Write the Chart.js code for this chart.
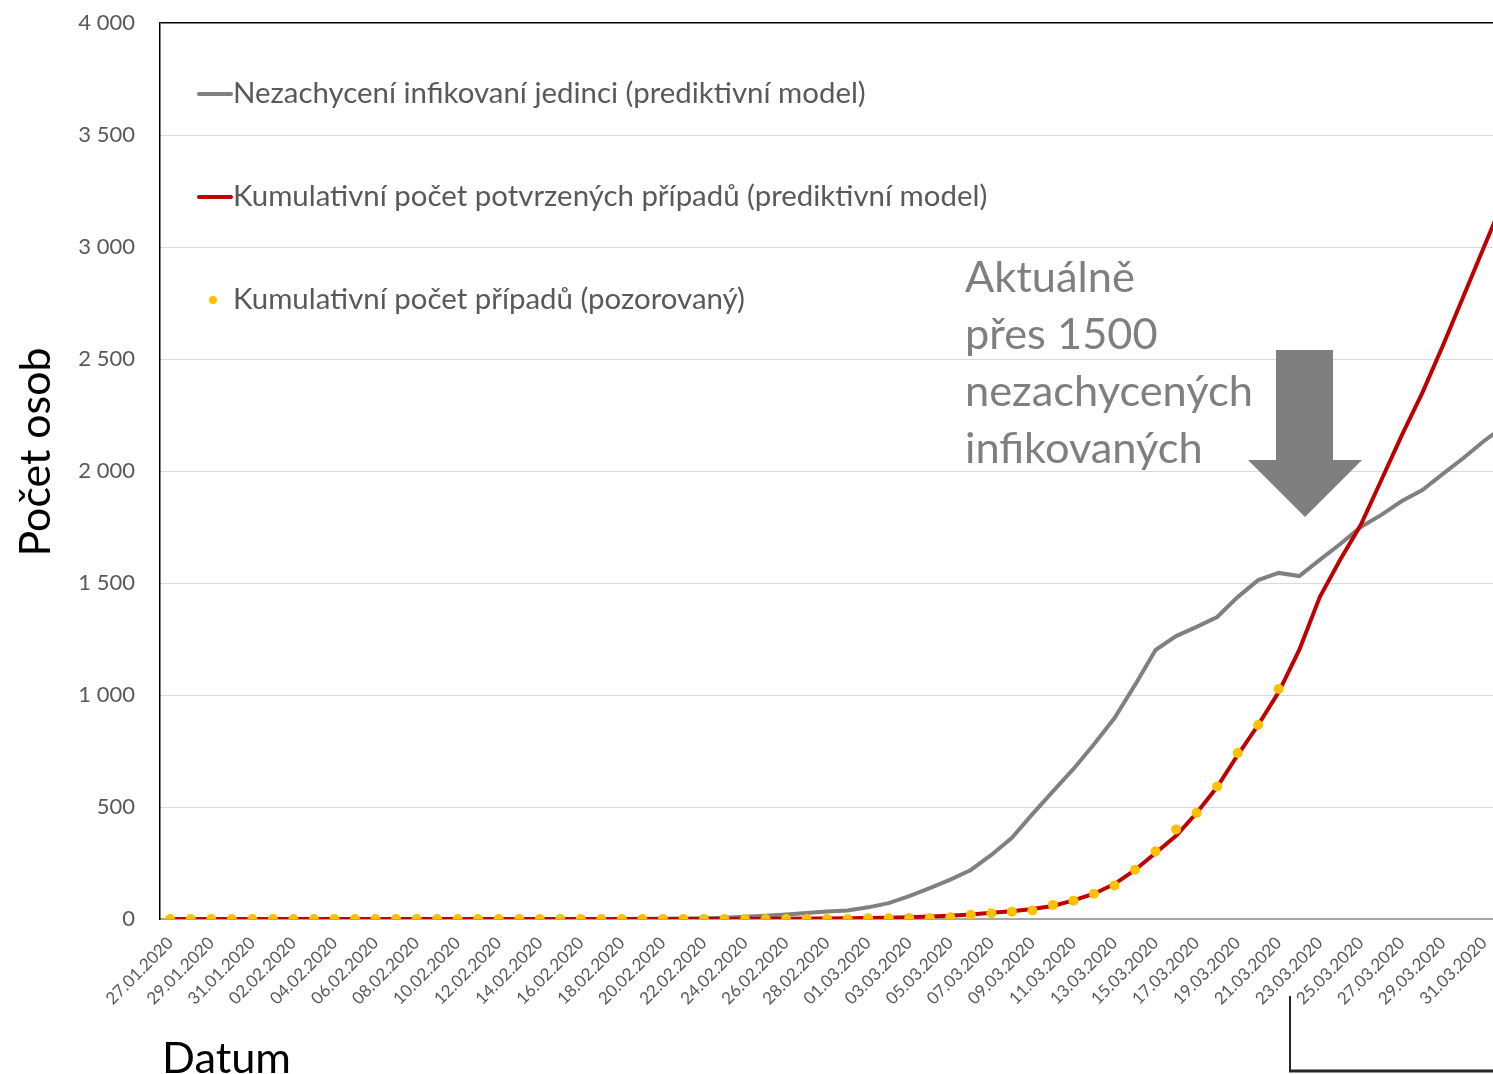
<!DOCTYPE html>
<html lang="cs">
<head>
<meta charset="utf-8">
<script src="https://cdn.jsdelivr.net/npm/chart.js@4"></script>
<style>
  html, body { margin: 0; padding: 0; background: #fff; overflow: hidden; }
  #wrap { width: 1493px; height: 1074px; overflow: hidden; position: relative; }
</style>
</head>
<body>
<div id="wrap"><canvas id="covidChart" width="1525" height="1074"></canvas></div>
<script>
// categories (one per day)
const dates = [
  '27.01.2020', '28.01.2020', '29.01.2020', '30.01.2020', '31.01.2020',
  '01.02.2020', '02.02.2020', '03.02.2020', '04.02.2020', '05.02.2020', '06.02.2020', '07.02.2020',
  '08.02.2020', '09.02.2020', '10.02.2020', '11.02.2020', '12.02.2020', '13.02.2020', '14.02.2020',
  '15.02.2020', '16.02.2020', '17.02.2020', '18.02.2020', '19.02.2020', '20.02.2020', '21.02.2020',
  '22.02.2020', '23.02.2020', '24.02.2020', '25.02.2020', '26.02.2020', '27.02.2020', '28.02.2020',
  '29.02.2020',
  '01.03.2020', '02.03.2020', '03.03.2020', '04.03.2020', '05.03.2020', '06.03.2020', '07.03.2020',
  '08.03.2020', '09.03.2020', '10.03.2020', '11.03.2020', '12.03.2020', '13.03.2020', '14.03.2020',
  '15.03.2020', '16.03.2020', '17.03.2020', '18.03.2020', '19.03.2020', '20.03.2020', '21.03.2020',
  '22.03.2020', '23.03.2020', '24.03.2020', '25.03.2020', '26.03.2020', '27.03.2020', '28.03.2020',
  '29.03.2020', '30.03.2020', '31.03.2020',
  '01.04.2020'
];

// Nezachycení infikovaní jedinci (prediktivní model)
const unreported = [
  0, 0, 0, 0, 0,
  0, 0, 0, 0, 0, 0, 0,
  0, 0, 0, 0, 0, 0, 0,
  0, 0, 0, 0, 1, 1, 2,
  3, 6, 10, 14, 20, 27, 33,
  38,
  52, 71, 102, 138, 176, 219, 286,
  362, 468, 570, 670, 780, 897, 1045,
  1201, 1263, 1304, 1348, 1437, 1513, 1545,
  1531, 1603, 1674, 1750, 1804, 1866, 1915,
  1987, 2058, 2134,
  2200
];

// Kumulativní počet potvrzených případů (prediktivní model)
const modelCases = [
  0, 0, 0, 0, 0,
  0, 0, 0, 0, 0, 0, 0,
  0, 0, 0, 0, 0, 0, 0,
  0, 0, 0, 0, 0, 0, 0,
  0, 0, 1, 1, 1, 2, 2,
  3,
  4, 6, 8, 11, 14, 20, 28,
  35, 45, 58, 83, 113, 156, 219,
  295, 371, 473, 589, 732, 866, 1013,
  1201, 1437, 1605, 1760, 1960, 2160, 2350,
  2560, 2780, 3000,
  3220
];

// Kumulativní počet případů (pozorovaný)
const observedCases = [
  0, 0, 0, 0, 0,
  0, 0, 0, 0, 0, 0, 0,
  0, 0, 0, 0, 0, 0, 0,
  0, 0, 0, 0, 0, 0, 0,
  0, 0, 0, 0, 0, 0, 0,
  0,
  3, 3, 5, 5, 8, 19, 26,
  32, 38, 63, 82, 113, 150, 220,
  302, 400, 473, 592, 741, 866, 1027,
  null, null, null, null, null, null, null,
  null, null, null,
  null
];

const seriesNames = [
  'Nezachycení infikovaní jedinci (prediktivní model)',
  'Kumulativní počet potvrzených případů (prediktivní model)',
  'Kumulativní počet případů (pozorovaný)'
];

const noteLines = ['Aktuálně', 'přes 1500', 'nezachycených', 'infikovaných'];

const FONT = 'Lato';

function fitSize(c, text, width) {
  c.font = '100px ' + FONT;
  return 100 * width / c.measureText(text).width;
}

function thousands(v) {
  return String(v).replace(/\B(?=(\d{3})+(?!\d))/g, ' ');
}

// legend, note, arrow, axis titles, bracket
const decorations = {
  id: 'decorations',
  afterDraw(chart) {
    const c = chart.ctx;
    c.save();

    // legend inside the plot
    const legY = [94, 197, 300];
    const legSize = fitSize(c, seriesNames[0], 633);
    chart.data.datasets.forEach((ds, k) => {
      const y = legY[k];
      if (ds.showLine === false) {
        c.fillStyle = ds.pointBackgroundColor;
        c.beginPath();
        c.arc(213, y, 4, 0, Math.PI * 2);
        c.fill();
      } else {
        c.strokeStyle = ds.borderColor;
        c.lineWidth = 4;
        c.lineCap = 'round';
        c.beginPath();
        c.moveTo(199, y);
        c.lineTo(231, y);
        c.stroke();
      }
      c.font = legSize + 'px ' + FONT;
      c.fillStyle = '#595959';
      c.textAlign = 'left';
      c.textBaseline = 'alphabetic';
      c.fillText(ds.label, 233, y + 9);
    });

    // note text
    const noteSize = fitSize(c, noteLines[2], 288);
    c.font = noteSize + 'px ' + FONT;
    c.fillStyle = '#7F7F7F';
    noteLines.forEach((t, k) => c.fillText(t, 965, 292 + 57 * k));

    // down arrow
    c.fillStyle = '#7F7F7F';
    c.beginPath();
    c.moveTo(1276, 350);
    c.lineTo(1333, 350);
    c.lineTo(1333, 460);
    c.lineTo(1362, 460);
    c.lineTo(1305, 517);
    c.lineTo(1248, 460);
    c.lineTo(1276, 460);
    c.closePath();
    c.fill();

    // axis titles
    c.fillStyle = '#000';
    const yTitle = 'Počet osob';
    c.font = fitSize(c, yTitle, 209) + 'px ' + FONT;
    c.save();
    c.translate(50, 452);
    c.rotate(-Math.PI / 2);
    c.textAlign = 'center';
    c.fillText(yTitle, 0, 0);
    c.restore();

    const xTitle = 'Datum';
    c.font = fitSize(c, xTitle, 129) + 'px ' + FONT;
    const m = c.measureText(xTitle);
    c.textAlign = 'left';
    c.fillText(xTitle, 162, 1042 + m.actualBoundingBoxAscent);

    // bracket at the bottom
    c.strokeStyle = '#262626';
    c.lineCap = 'butt';
    c.lineWidth = 2;
    c.beginPath();
    c.moveTo(1290, 996);
    c.lineTo(1290, 1071);
    c.stroke();
    c.lineWidth = 3;
    c.beginPath();
    c.moveTo(1289, 1071);
    c.lineTo(1525, 1071);
    c.stroke();

    c.restore();
  }
};

const ctxCovid = document.getElementById('covidChart');

new Chart(ctxCovid, {
  type: 'line',
  data: {
    labels: dates,
    datasets: [{
      label: seriesNames[0],
      data: unreported,
      borderColor: '#808080',
      borderWidth: 4,
      pointRadius: 0,
      tension: 0,
      order: 3
    }, {
      label: seriesNames[1],
      data: modelCases,
      borderColor: '#C00000',
      borderWidth: 4,
      pointRadius: 0,
      tension: 0,
      order: 2
    }, {
      label: seriesNames[2],
      data: observedCases,
      showLine: false,
      pointRadius: 5,
      pointBorderWidth: 0,
      pointBackgroundColor: '#FFC000',
      pointBorderColor: '#FFC000',
      order: 1
    }]
  },
  options: {
    responsive: false,
    animation: false,
    layout: { padding: { top: 23, right: 8, left: 0, bottom: 0 } },
    plugins: {
      legend: { display: false },
      tooltip: { enabled: false }
    },
    scales: {
      x: {
        offset: true,
        grid: { display: false },
        border: { color: '#A6A6A6', width: 2 },
        ticks: {
          autoSkip: false,
          minRotation: 45,
          maxRotation: 45,
          padding: 6,
          color: '#595959',
          font: { family: FONT, size: 17 },
          callback: function (v, i) { return i % 2 === 0 ? this.getLabelForValue(v) : ''; }
        },
        afterFit: s => { s.height = 155; }
      },
      y: {
        min: 0,
        max: 4000,
        ticks: {
          stepSize: 500,
          padding: 25,
          color: '#595959',
          font: { family: FONT, size: 22 },
          callback: v => thousands(v)
        },
        grid: {
          drawTicks: false,
          color: g => g.tick.value === 4000 ? '#000' : '#D9D9D9',
          lineWidth: g => g.tick.value === 4000 ? 1.5 : 1
        },
        border: { color: '#000', width: 1.5 },
        afterFit: s => { s.width = 160; s.paddingTop = 0; s.paddingBottom = 0; }
      }
    }
  },
  plugins: [decorations]
});
</script>
</body>
</html>
